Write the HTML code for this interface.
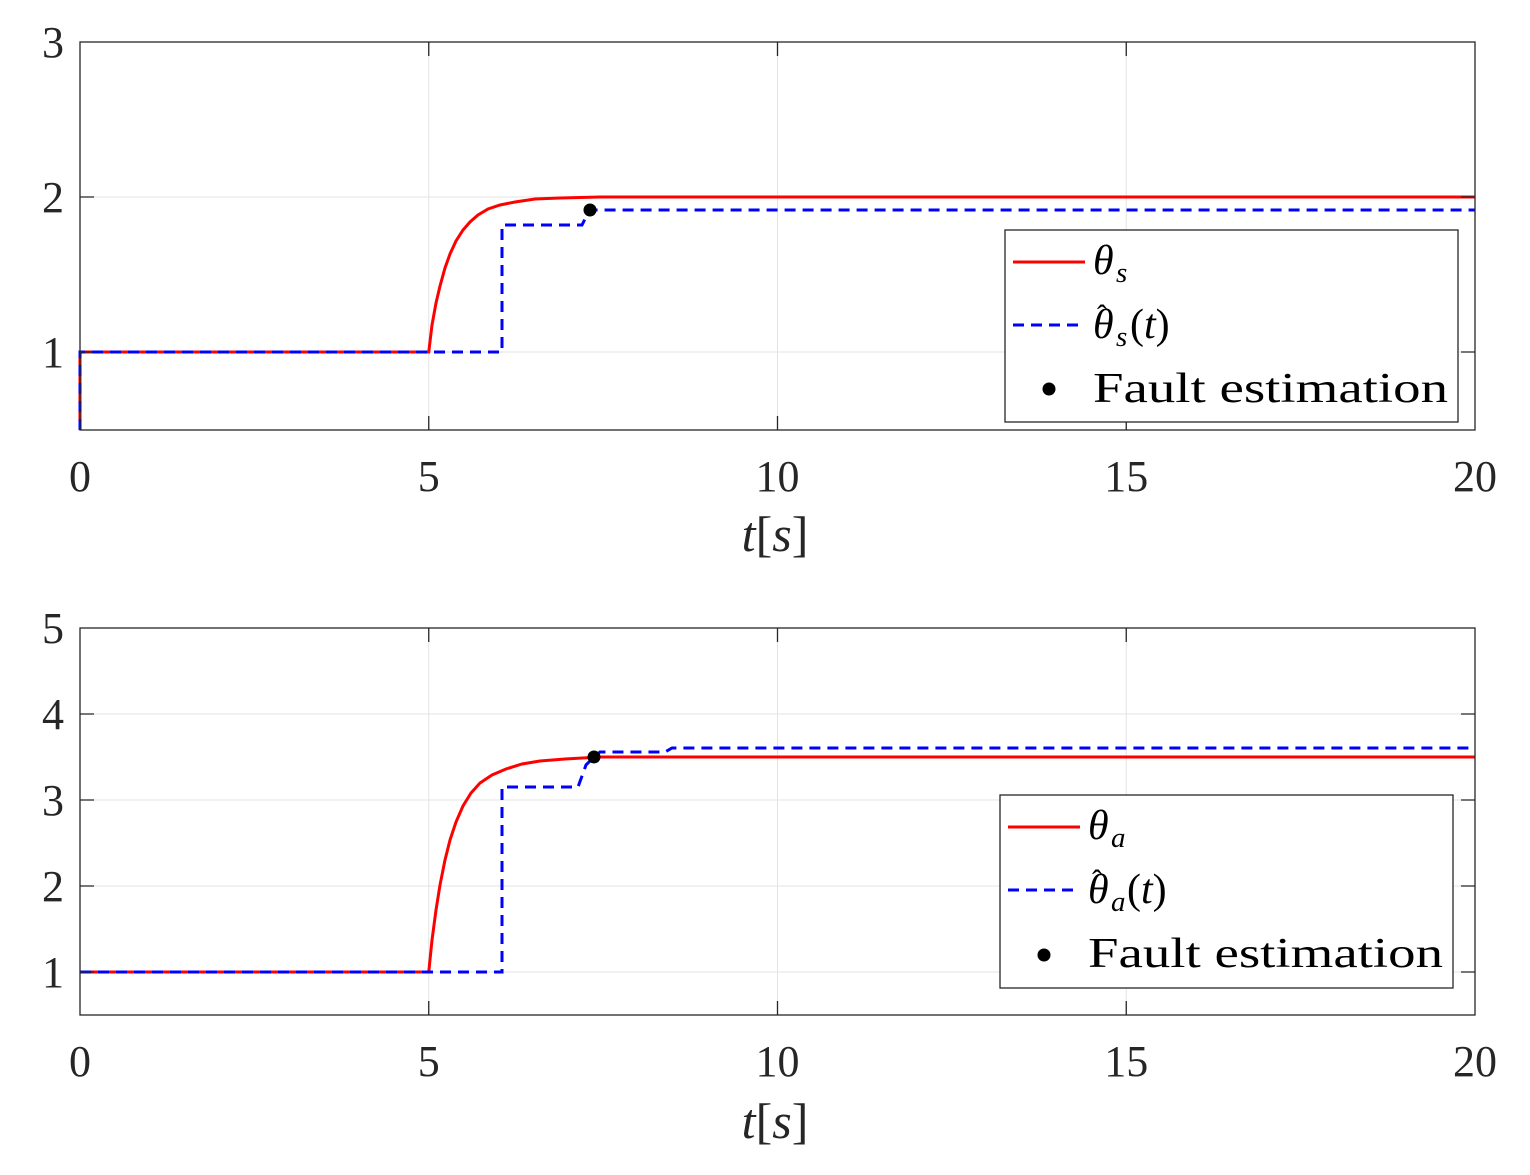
<!DOCTYPE html>
<html><head><meta charset="utf-8"><style>
html,body{margin:0;padding:0;background:#fff;}
svg text{font-family:"Liberation Serif","Times New Roman",serif;}
</style></head><body>
<svg width="1530" height="1170" viewBox="0 0 1530 1170">
<rect width="1530" height="1170" fill="#fff"/>
<g stroke="#e3e3e3" stroke-width="1">
<line x1="428.75" y1="42" x2="428.75" y2="430"/><line x1="777.5" y1="42" x2="777.5" y2="430"/><line x1="1126.25" y1="42" x2="1126.25" y2="430"/>
<line x1="80" y1="197" x2="1475" y2="197"/><line x1="80" y1="352" x2="1475" y2="352"/>
<line x1="428.75" y1="628" x2="428.75" y2="1015"/><line x1="777.5" y1="628" x2="777.5" y2="1015"/><line x1="1126.25" y1="628" x2="1126.25" y2="1015"/>
<line x1="80" y1="714" x2="1475" y2="714"/><line x1="80" y1="800" x2="1475" y2="800"/><line x1="80" y1="886" x2="1475" y2="886"/><line x1="80" y1="972" x2="1475" y2="972"/>
</g>
<polyline fill="none" stroke="#ff0000" stroke-width="3" points="80,430 80,352 428.75,352 432,325 436,303 440,286 445,268 450,254 456,241 463,230 470,222 478,215 488,209 500,205 515,202 535,199 560,198 600,197 1475,197"/>
<polyline fill="none" stroke="#0000ff" stroke-width="3" stroke-dasharray="11,7" points="80,430 80,352 502,352 502,225 582,225 588,213 592,210 1475,210"/>
<circle cx="590" cy="210" r="6.5" fill="#000"/>
<polyline fill="none" stroke="#ff0000" stroke-width="3" points="80,972 428.75,972 432,940 436,910 440,885 445,860 450,840 456,822 463,806 471,793 480,783 492,775 506,769 522,764 540,761 565,759 600,757 1475,757"/>
<polyline fill="none" stroke="#0000ff" stroke-width="3" stroke-dasharray="11,7" points="80,972 502,972 502,787 578,787 586,765 594,757 600,752 665,752 672,748 1475,748"/>
<circle cx="594" cy="757" r="6.5" fill="#000"/>
<g fill="none" stroke="#262626" stroke-width="1.3">
<rect x="80" y="42" width="1395" height="388"/>
<rect x="80" y="628" width="1395" height="387"/>
<path d="M428.75,430v-14M777.5,430v-14M1126.25,430v-14M428.75,42v14M777.5,42v14M1126.25,42v14M80,197h14M80,352h14M1475,197h-14M1475,352h-14"/>
<path d="M428.75,1015v-14M777.5,1015v-14M1126.25,1015v-14M428.75,628v14M777.5,628v14M1126.25,628v14M80,714h14M80,800h14M80,886h14M80,972h14M1475,714h-14M1475,800h-14M1475,886h-14M1475,972h-14"/>
</g>
<g fill="#262626" font-size="44">
<text x="64" y="57" text-anchor="end">3</text><text x="64" y="212" text-anchor="end">2</text><text x="64" y="367" text-anchor="end">1</text>
<text x="80" y="491" text-anchor="middle">0</text><text x="428.75" y="491" text-anchor="middle">5</text><text x="777.5" y="491" text-anchor="middle">10</text><text x="1126.25" y="491" text-anchor="middle">15</text><text x="1475" y="491" text-anchor="middle">20</text>
<text x="775" y="551" text-anchor="middle" font-size="50"><tspan font-style="italic">t</tspan>[<tspan font-style="italic">s</tspan>]</text>
<text x="64" y="643" text-anchor="end">5</text><text x="64" y="729" text-anchor="end">4</text><text x="64" y="815" text-anchor="end">3</text><text x="64" y="901" text-anchor="end">2</text><text x="64" y="987" text-anchor="end">1</text>
<text x="80" y="1076" text-anchor="middle">0</text><text x="428.75" y="1076" text-anchor="middle">5</text><text x="777.5" y="1076" text-anchor="middle">10</text><text x="1126.25" y="1076" text-anchor="middle">15</text><text x="1475" y="1076" text-anchor="middle">20</text>
<text x="775" y="1138" text-anchor="middle" font-size="50"><tspan font-style="italic">t</tspan>[<tspan font-style="italic">s</tspan>]</text>
</g>
<g fill="#000">
<rect x="1005" y="230" width="453" height="192" fill="#fff" stroke="#262626" stroke-width="1.3"/>
<line x1="1013" y1="262" x2="1085" y2="262" stroke="#ff0000" stroke-width="3"/>
<line x1="1013" y1="325" x2="1085" y2="325" stroke="#0000ff" stroke-width="3" stroke-dasharray="11,7"/>
<circle cx="1049" cy="389" r="6.5" fill="#000"/>
<text x="1093" y="274" font-size="42" font-style="italic">θ</text><text x="1116" y="282" font-size="29" font-style="italic">s</text>
<text x="1097" y="325" font-size="30">ˆ</text>
<text x="1093" y="338" font-size="42" font-style="italic">θ</text><text x="1116" y="346" font-size="29" font-style="italic">s</text>
<text x="1130" y="338" font-size="42">(<tspan font-style="italic">t</tspan>)</text>
<text x="1093" y="402" font-size="42" textLength="355" lengthAdjust="spacingAndGlyphs">Fault estimation</text>
</g>
<g fill="#000">
<rect x="1000" y="795" width="453" height="193" fill="#fff" stroke="#262626" stroke-width="1.3"/>
<line x1="1008" y1="827" x2="1080" y2="827" stroke="#ff0000" stroke-width="3"/>
<line x1="1008" y1="890" x2="1080" y2="890" stroke="#0000ff" stroke-width="3" stroke-dasharray="11,7"/>
<circle cx="1044" cy="955" r="6.5" fill="#000"/>
<text x="1088" y="839" font-size="42" font-style="italic">θ</text><text x="1111" y="847" font-size="29" font-style="italic">a</text>
<text x="1092" y="890" font-size="30">ˆ</text>
<text x="1088" y="903" font-size="42" font-style="italic">θ</text><text x="1111" y="911" font-size="29" font-style="italic">a</text>
<text x="1127" y="903" font-size="42">(<tspan font-style="italic">t</tspan>)</text>
<text x="1088" y="967" font-size="42" textLength="355" lengthAdjust="spacingAndGlyphs">Fault estimation</text>
</g>
</svg>
</body></html>
